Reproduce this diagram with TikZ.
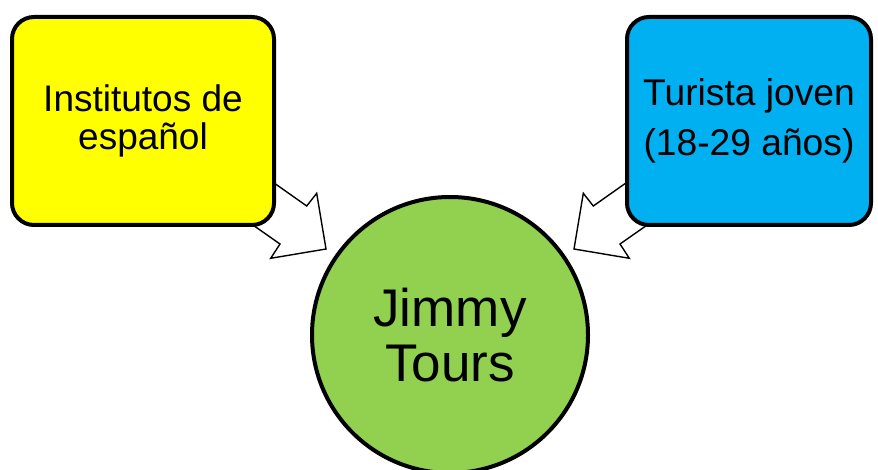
\documentclass[tikz,border=0pt]{standalone}
\usepackage{fontspec}
\setmainfont{Liberation Sans}
\definecolor{boxyellow}{HTML}{FFFF00}
\definecolor{boxblue}{HTML}{00B0F0}
\definecolor{boxgreen}{HTML}{92D050}
\begin{document}
\begin{tikzpicture}[x=1pt,y=-1pt,
  sidebox/.style={draw=black,line width=4pt,rounded corners=22pt,align=center,inner sep=0pt},
  hubcircle/.style={circle,draw=black,line width=4pt,fill=boxgreen,minimum size=276pt,align=center,inner sep=0pt},
  blockarrow/.style={draw=black,fill=white,line width=1.4pt,line join=miter}]
\clip (0,0) rectangle (878,470);
\fill[white] (0,0) rectangle (878,470);
% block arrows (drawn first, boxes cover their tails)
\coordinate (lt1) at (250,166);
\coordinate (lt2) at (230,209);
\coordinate (rt1) at (650,166);
\coordinate (rt2) at (670,209);
\draw[blockarrow] (lt1) -- (306.7,206) -- (316.7,193.3) -- (326,249) -- (270.7,258.3) -- (280,244) -- (lt2) -- cycle;
\draw[blockarrow] (rt1) -- (593.3,206) -- (583.3,193.3) -- (574,249) -- (629.3,258.3) -- (620,244) -- (rt2) -- cycle;
\node[sidebox,fill=boxyellow,minimum width=262pt,minimum height=208pt,
  font=\fontsize{37}{38}\selectfont] (inst) at (143,121) {Institutos de\\español};
\node[sidebox,fill=boxblue,minimum width=244pt,minimum height=208pt,
  font=\fontsize{37.2}{50}\selectfont] (tur) at (749,121) {Turista joven\\(18-29 años)};
\node[hubcircle,font=\fontsize{53}{55}\selectfont] (jt) at (450,335) {Jimmy\\Tours};
\end{tikzpicture}
\end{document}
